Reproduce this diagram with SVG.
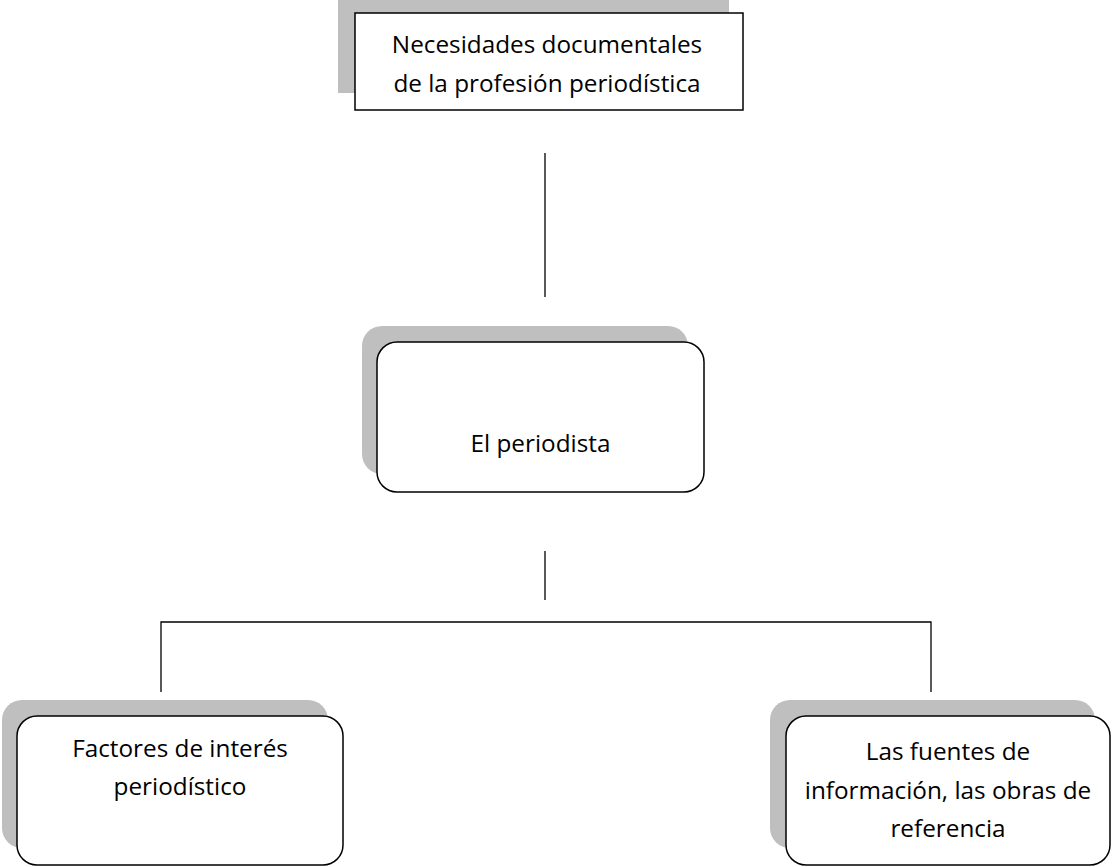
<svg xmlns="http://www.w3.org/2000/svg" width="1112" height="867" viewBox="0 0 1112 867">
<style>
.shadow{fill:#bfbfbf;stroke:none}
.box{fill:#ffffff;stroke:#000000;stroke-width:1.5}
.lbl{font-family:"Open Sans","Liberation Sans",sans-serif;font-size:24.3px;fill:#000000;text-anchor:middle}
.conn{stroke:#000000;stroke-width:1.3;fill:none}
</style>
<rect width="1112" height="867" fill="#ffffff"/>
<g id="connectors">
<line class="conn" x1="545" y1="153" x2="545" y2="297"/>
<line class="conn" x1="545" y1="551" x2="545" y2="600"/>
<polyline class="conn" points="161,692 161,622 931,622 931,692"/>
</g>
<g id="node-top">
<rect class="shadow" x="338" y="-2" width="391" height="95"/>
<rect class="box" x="355" y="13" width="388" height="97"/>
<text class="lbl" x="547" y="53">Necesidades documentales</text>
<text class="lbl" x="547" y="92">de la profesión periodística</text>
</g>
<g id="node-periodista">
<rect class="shadow" x="362" y="326" width="326" height="148" rx="20" ry="20"/>
<rect class="box" x="377" y="342" width="327" height="150" rx="20" ry="20"/>
<text class="lbl" x="540.5" y="452">El periodista</text>
</g>
<g id="node-factores">
<rect class="shadow" x="2" y="700" width="326" height="148" rx="20" ry="20"/>
<rect class="box" x="17" y="716" width="326" height="149" rx="20" ry="20"/>
<text class="lbl" x="180" y="757">Factores de interés</text>
<text class="lbl" x="180" y="795">periodístico</text>
</g>
<g id="node-fuentes">
<rect class="shadow" x="770" y="700" width="325" height="148" rx="20" ry="20"/>
<rect class="box" x="786" y="716" width="324" height="149" rx="20" ry="20"/>
<text class="lbl" x="948" y="760">Las fuentes de</text>
<text class="lbl" x="948" y="799">información, las obras de</text>
<text class="lbl" x="948" y="837">referencia</text>
</g>
</svg>
